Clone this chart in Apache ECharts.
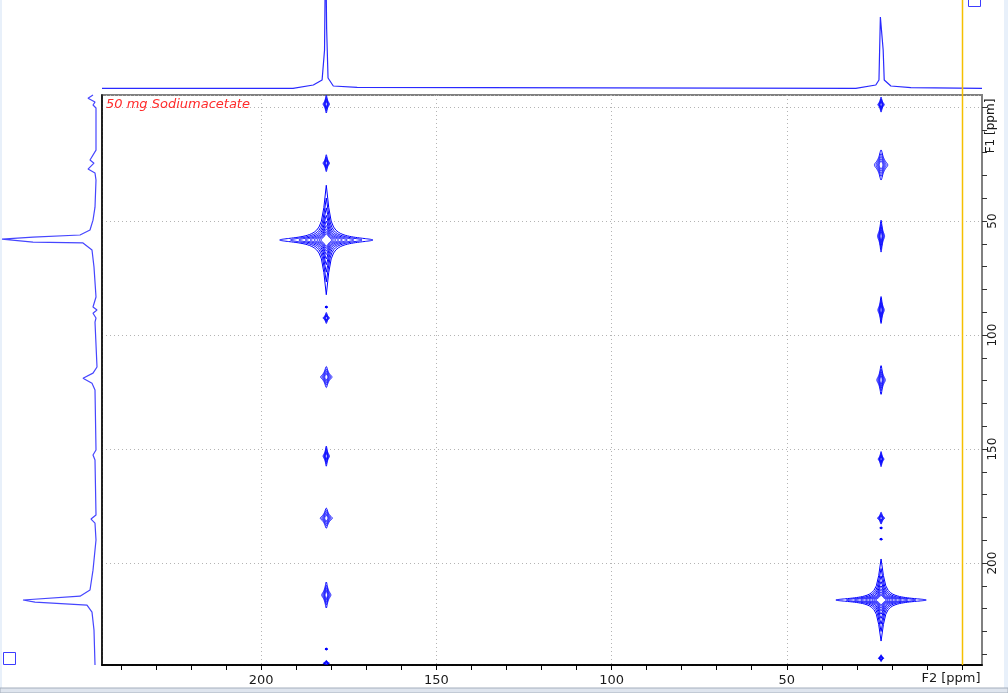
<!DOCTYPE html>
<html>
<head>
<meta charset="utf-8">
<script src="https://cdn.jsdelivr.net/npm/echarts@6/dist/echarts.min.js"></script>
<style>
html, body { margin: 0; padding: 0; background: #fff; }
#main { width: 1008px; height: 693px; }
</style>
</head>
<body>
<div id="main"></div>
<script>
// F2 projection (top trace), ppm / intensity
var topPpm = [245.4, 190.9, 190.8, 185.1, 182.6, 181.9, 181.6, 181.3, 180.9, 179.4, 172.6, 172.5,
    30.3, 30.2, 24.6, 23.7, 23.3, 22.9, 22.5, 22.2, 20.3, 14.6, 14.5, -5.7];
var topInt = [0.7, 0.7, 1.7, 4, 9, 39, 150, 60, 11, 3, 1.7, 0.7,
    0.7, 1.7, 4, 9, 72, 74, 39, 9, 3, 1.3, 0.7, 0.7];

// F1 projection (left trace), ppm / intensity
var sidePpm = [-5.3, -3.9, -2.2, -0.9, 0.4, 18.9, 23.2, 24.6, 27.2, 28.9, 32.0, 43.9, 49.6, 53.9, 56.1,
    57.0, 57.9, 59.2, 59.6, 62.7, 70.2, 83.3, 87.7, 89.0, 90.4, 92.5, 94.3, 114.0, 116.7, 118.9, 121.1,
    124.1, 150.4, 152.6, 154.8, 178.9, 180.7, 182.5, 189.9, 203.1, 211.8, 214.5, 216.2, 217.1, 218.4,
    221.5, 229.4, 244.7];
var sideInt = [4, 9, 2, 4, 1, 1, 7, 3, 9, 2, 1, 2, 4, 7, 17,
    64, 95, 64, 14, 5, 3, 1, 4, 0, 4, 1, 2, 0, 4, 14, 5,
    2, 1, 4, 2, 1, 6, 2, 1, 4, 7, 17, 74, 62, 10,
    5, 3, 2];

// strong peaks: F2, F1, half arm length F2, half arm length F1 (ppm)
var crossPeaks = [
    [181.4, 58.3, 13.3, 24],
    [23.1, 216.2, 12.9, 18]
];
// weak peaks
var spotPeaks = [
    [181.4, -1.3, 0.9, 3.9],
    [181.4, 24.6, 0.9, 3.7],
    [181.4, 87.7, 0.4, 0.5],
    [181.4, 92.5, 0.9, 2.4],
    [181.4, 118.4, 1.6, 4.6],
    [181.4, 153.1, 0.9, 4.4],
    [181.4, 180.3, 1.7, 4.4],
    [181.4, 214.0, 1.3, 5.7],
    [181.4, 237.7, 0.4, 0.5],
    [181.4, 243.9, 0.9, 1.2],
    [23.1, -1.1, 0.9, 3.3],
    [23.1, 25.4, 1.9, 6.6],
    [23.1, 56.6, 1.0, 7.0],
    [23.1, 89.0, 0.9, 5.9],
    [23.1, 119.7, 1.2, 6.3],
    [23.1, 154.4, 0.8, 3.3],
    [23.1, 180.3, 1.0, 2.6],
    [23.1, 184.6, 0.4, 0.5],
    [23.1, 189.5, 0.4, 0.5],
    [23.1, 241.7, 0.8, 1.5]
];

var f2Ticks = [240, 230, 220, 210, 200, 190, 180, 170, 160, 150, 140, 130, 120, 110, 100,
    90, 80, 70, 60, 50, 40, 30, 20, 10, 0];
var f2Labels = [200, 150, 100, 50, 0];
var f1Ticks = [0, 10, 20, 30, 40, 50, 60, 70, 80, 90, 100, 110, 120, 130, 140, 150,
    160, 170, 180, 190, 200, 210, 220, 230, 240];
var f1Labels = [0, 50, 100, 150, 200];

var f2Range = [-5.7, 245.4];
var f1Range = [-5.3, 244.7];

function contour(cmin, levels, ratio) {
    return function (params, api) {
        var c = api.coord([api.value(0), api.value(1)]);
        var s = api.size([api.value(2), api.value(3)]);
        var U = Math.sqrt(1 / cmin - 1);
        var gx = s[0] / U, gy = s[1] / U;
        var children = [];
        for (var k = 0; k < levels; k++) {
            var lv = cmin * Math.pow(ratio, k);
            var uk = Math.sqrt(1 / lv - 1);
            var top = [], bot = [];
            for (var i = 0; i <= 60; i++) {
                var u = uk * Math.sin(-Math.PI / 2 + Math.PI * i / 60);
                var v = Math.sqrt(Math.max(0, 1 / (lv * (1 + u * u)) - 1));
                top.push([c[0] + u * gx, c[1] - v * gy]);
                bot.unshift([c[0] + u * gx, c[1] + v * gy]);
            }
            children.push({
                type: 'polygon',
                shape: { points: top.concat(bot) },
                style: { fill: 'none', stroke: '#0000ff', lineWidth: 1 }
            });
        }
        return { type: 'group', children: children };
    };
}

function hideZero(v) {
    return v === 0 ? '' : String(v);
}

var chartDom = document.getElementById('main');
var myChart = echarts.init(chartDom);
var option;

var fontFam = 'DejaVu Sans';
var dotted = { color: '#b4b4b4', type: [1, 3] };

option = {
    animation: false,
    backgroundColor: '#ffffff',
    grid: [
        { left: 102, right: 26, top: 95, bottom: 28, show: true, borderColor: '#808080', borderWidth: 2 },
        { left: 102, right: 26, top: 0, height: 89 },
        { left: 0, width: 97, top: 95, bottom: 28 }
    ],
    xAxis: [
        {
            // labels + grid lines
            gridIndex: 0, type: 'value', min: f2Range[0], max: f2Range[1], inverse: true, position: 'bottom',
            splitNumber: 5,
            axisLine: { show: true, onZero: false, lineStyle: { color: '#000', width: 1.5 } },
            axisTick: { show: false },
            axisLabel: { customValues: f2Labels, formatter: hideZero, color: '#1a1a1a', fontSize: 13, fontFamily: fontFam, margin: 9 },
            splitLine: { show: true, lineStyle: dotted }
        },
        { gridIndex: 1, type: 'value', min: f2Range[0], max: f2Range[1], inverse: true, show: false },
        { gridIndex: 2, type: 'value', min: 0, max: 97, inverse: true, show: false },
        {
            // 10 ppm ticks
            gridIndex: 0, type: 'value', min: f2Range[0], max: f2Range[1], inverse: true, position: 'bottom', offset: 0,
            axisLine: { show: true, onZero: false, lineStyle: { color: '#000', width: 1.5 } },
            axisTick: { show: true, customValues: f2Ticks, length: 5, lineStyle: { color: '#000' } },
            axisLabel: { show: false },
            splitLine: { show: false }
        }
    ],
    yAxis: [
        {
            gridIndex: 0, type: 'value', min: f1Range[0], max: f1Range[1], inverse: true, position: 'right',
            splitNumber: 5,
            axisLine: { show: true, onZero: false, lineStyle: { color: '#808080', width: 2 } },
            axisTick: { show: false },
            axisLabel: { customValues: f1Labels, formatter: hideZero, rotate: 90, color: '#1a1a1a', fontSize: 12, fontFamily: fontFam, margin: 5 },
            splitLine: { show: true, lineStyle: dotted }
        },
        {
            gridIndex: 0, type: 'value', min: f1Range[0], max: f1Range[1], inverse: true, position: 'left',
            axisLine: { show: true, onZero: false, lineStyle: { color: '#000', width: 1.5 } },
            axisTick: { show: false }, axisLabel: { show: false }, splitLine: { show: false }
        },
        { gridIndex: 1, type: 'value', min: 0, max: 89, show: false },
        { gridIndex: 2, type: 'value', min: f1Range[0], max: f1Range[1], inverse: true, show: false },
        {
            gridIndex: 0, type: 'value', min: f1Range[0], max: f1Range[1], inverse: true, position: 'right', offset: 0,
            axisLine: { show: true, onZero: false, lineStyle: { color: '#808080', width: 2 } },
            axisTick: { show: true, customValues: f1Ticks, length: 5, lineStyle: { color: '#333' } },
            axisLabel: { show: false }, splitLine: { show: false }
        }
    ],
    series: [
        {
            type: 'custom', name: 'cross', xAxisIndex: 0, yAxisIndex: 0, clip: true,
            encode: { x: 0, y: 1 },
            renderItem: contour(0.0015, 9, 1.7),
            data: crossPeaks
        },
        {
            type: 'custom', name: 'spots', xAxisIndex: 0, yAxisIndex: 0, clip: true,
            encode: { x: 0, y: 1 },
            renderItem: contour(0.05, 5, 1.7),
            data: spotPeaks
        },
        {
            type: 'line', name: 'F2 projection', xAxisIndex: 1, yAxisIndex: 2,
            showSymbol: false, clip: true,
            lineStyle: { color: '#2a2aff', width: 1.2 },
            data: topPpm.map(function (p, i) { return [p, topInt[i]]; })
        },
        {
            type: 'line', name: 'F1 projection', xAxisIndex: 2, yAxisIndex: 3,
            showSymbol: false, clip: false,
            lineStyle: { color: '#4646ff', width: 1.2 },
            data: sidePpm.map(function (p, i) { return [sideInt[i], p]; })
        }
    ],
    graphic: [
        { type: 'rect', id: 'leftEdge', shape: { x: 0, y: 0, width: 2, height: 688 }, style: { fill: '#e8f0fa' }, z: 0 },
        { type: 'rect', id: 'rightEdge', shape: { x: 1004, y: 0, width: 4, height: 688 }, style: { fill: '#e8f0fa' }, z: 0 },
        { type: 'rect', id: 'bottomBand', shape: { x: 0, y: 688, width: 1008, height: 5 }, style: { fill: '#dfe5ee', stroke: '#a4aebc', lineWidth: 1 }, z: 0 },
        { type: 'rect', id: 'sqBL', shape: { x: 3.5, y: 652.5, width: 12, height: 12 }, style: { fill: 'none', stroke: '#3c3cff', lineWidth: 1 }, z: 10 },
        { type: 'rect', id: 'sqTR', shape: { x: 968.5, y: -6, width: 12, height: 12.5 }, style: { fill: 'none', stroke: '#3c3cff', lineWidth: 1 }, z: 10 },
        {
            type: 'text', id: 'note', x: 106, y: 105,
            style: { text: '50 mg Sodiumacetate', fill: '#ff2b2b', fontSize: 13, fontStyle: 'italic', fontFamily: fontFam, textVerticalAlign: 'middle' },
            z: 10
        },
        {
            type: 'text', id: 'f1name', x: 991, y: 126, rotation: Math.PI / 2,
            style: { text: 'F1 [ppm]', fill: '#1a1a1a', fontSize: 12, fontFamily: fontFam, textAlign: 'center', textVerticalAlign: 'middle' },
            z: 10
        },
        {
            type: 'text', id: 'f2name', x: 951, y: 679,
            style: { text: 'F2 [ppm]', fill: '#1a1a1a', fontSize: 13, fontFamily: fontFam, textAlign: 'center', textVerticalAlign: 'middle' },
            z: 10
        }
    ]
};
option && myChart.setOption(option);

// cursor line at F2 = 0 ppm
var x0 = Math.round(myChart.convertToPixel({ xAxisIndex: 0 }, 0)) + 0.5;
var yb = myChart.convertToPixel({ yAxisIndex: 0 }, f1Range[1]);
myChart.setOption({
    graphic: [
        { type: 'line', id: 'cursor', shape: { x1: x0, y1: 0, x2: x0, y2: yb }, style: { stroke: '#f5c000', lineWidth: 1.5 }, z: 20 }
    ]
});
</script>
</body>
</html>
